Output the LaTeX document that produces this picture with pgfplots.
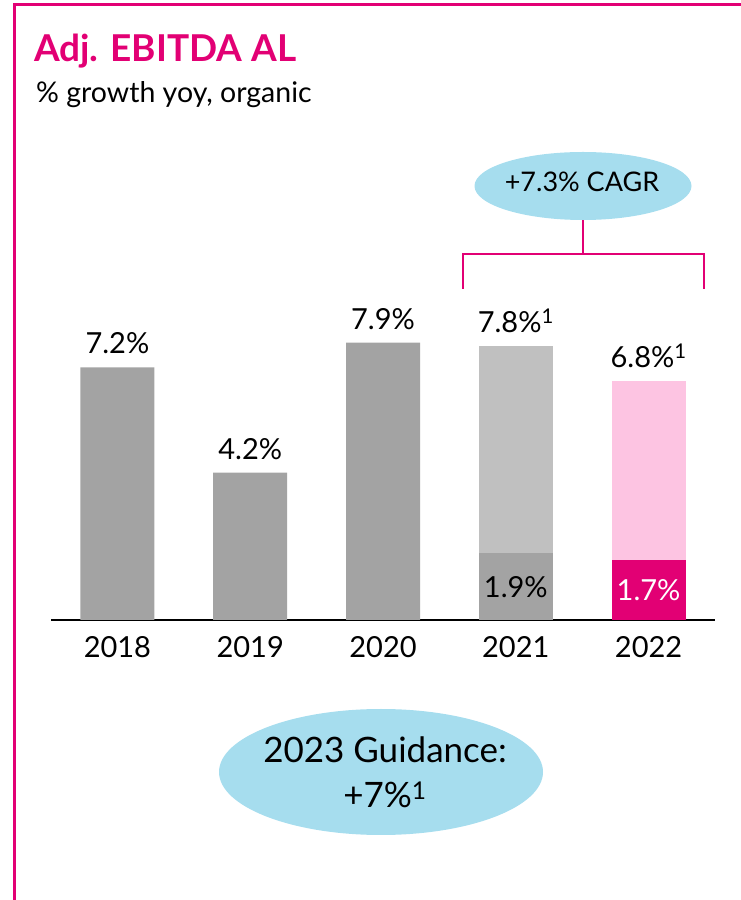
\documentclass[border=0pt]{standalone}
\usepackage{fontspec}
\setmainfont{Lato}
\usepackage{pgfplots}
\pgfplotsset{compat=1.18}
\definecolor{tmag}{HTML}{E20074}
\definecolor{barg}{HTML}{A3A3A3}
\definecolor{barlg}{HTML}{C0C0C0}
\definecolor{barpk}{HTML}{FDC4E2}
\definecolor{ellb}{HTML}{A6DDEE}
\newcommand{\fs}[1]{\fontsize{#1bp}{#1bp}\selectfont}
\begin{document}
\begin{tikzpicture}[x=1bp,y=1bp]
\useasboundingbox (0,0) rectangle (741,900);
\draw[tmag, line width=3bp] (14,0) -- (14,895.5) -- (741,895.5);
\node[anchor=base west, inner sep=0, text=tmag, font=\fs{37}\bfseries] at (34,838) {Adj. EBITDA AL};
\node[anchor=base west, inner sep=0, font=\fs{28.5}] at (36,797) {\% growth yoy, organic};
\begin{axis}[at={(51bp,280bp)}, anchor=south west, scale only axis,
  width=664bp, height=351bp, xmin=-0.5, xmax=4.5, ymin=0, ymax=10,
  axis x line=bottom, axis y line=none,
  x axis line style={-, black, line width=1.2bp},
  xtick={0,...,4}, xticklabels={2018,2019,2020,2021,2022},
  major tick length=0pt,
  xticklabel style={font=\fs{29}, inner sep=0pt, anchor=north, yshift=-16bp},
  ybar, bar width=74bp, bar shift=0pt, clip=false,
  every node near coord/.append style={font=\fs{29}, inner sep=0pt, anchor=south, yshift=13bp, text=black},
  point meta=explicit symbolic]
\addplot[fill=barg, draw=none, nodes near coords] coordinates {(0,7.2)[7.2\%] (1,4.2)[4.2\%] (2,7.9)[7.9\%]};
\addplot[fill=barlg, draw=none, nodes near coords] coordinates {(3,7.8)[7.8\%\textsuperscript{1}]};
\addplot[fill=barpk, draw=none, nodes near coords] coordinates {(4,6.8)[6.8\%\textsuperscript{1}]};
\addplot[fill=barg, draw=none] coordinates {(3,1.9)};
\addplot[fill=tmag, draw=none] coordinates {(4,1.7)};
\node[font=\fs{29}, text=black] at (axis cs:3,0.95) {1.9\%};
\node[font=\fs{29}, text=white] at (axis cs:4,0.85) {1.7\%};
\end{axis}
\draw[tmag, line width=2.5bp] (463,611) -- (463,646) -- (704,646) -- (704,611);
\draw[tmag, line width=2.5bp] (583,646) -- (583,681);
\fill[ellb] (583,714) ellipse [x radius=108.5, y radius=34];
\node[anchor=base, inner sep=0, font=\fs{27}] at (582,708) {+7.3\% CAGR};
\fill[ellb] (381,128) ellipse [x radius=162, y radius=63];
\node[anchor=base, inner sep=0, font=\fs{35}] at (385,137) {2023 Guidance:};
\node[anchor=base, inner sep=0, font=\fs{35}] at (385,92) {+7\%\textsuperscript{1}};
\end{tikzpicture}
\end{document}
